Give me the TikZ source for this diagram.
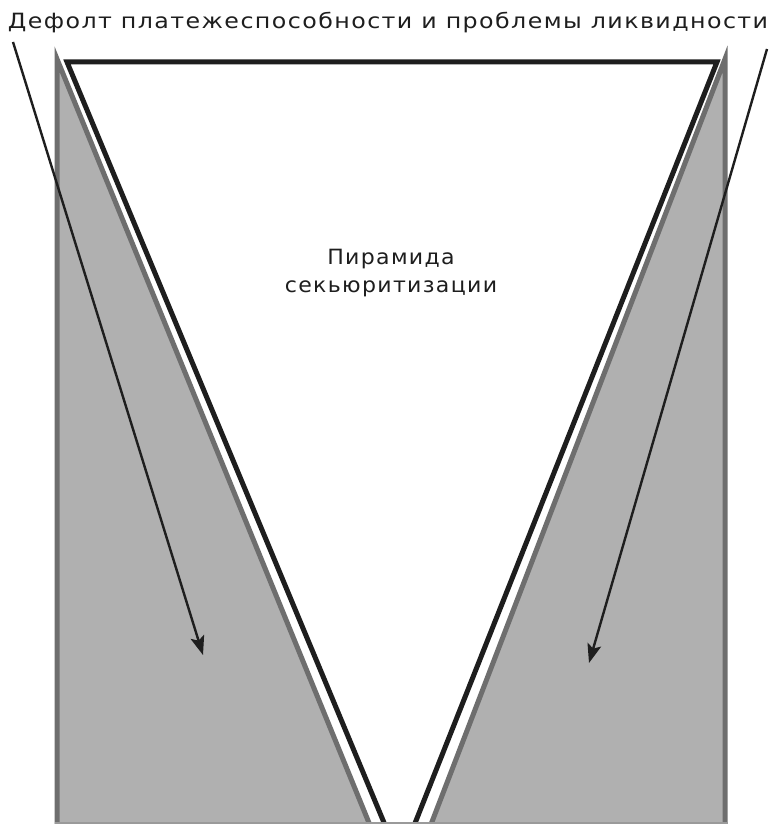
\documentclass[tikz,border=0pt]{standalone}
\usepackage{fontspec}
\setmainfont{DejaVu Sans}
\newfontfamily\wideFont[LetterSpace=6]{DejaVu Sans}
\usetikzlibrary{arrows.meta}
\definecolor{wedgeGray}{HTML}{B0B0B0}
\definecolor{edgeGray}{HTML}{6E6E6E}
\definecolor{baseGray}{HTML}{9A9A9A}
\definecolor{inkBlack}{HTML}{1E1E1E}
\tikzset{
  wedge/.style={fill=wedgeGray, draw=edgeGray, line width=5pt, line join=miter},
  pyramid/.style={fill=white, draw=inkBlack, line width=5pt, line join=miter},
  titleText/.style={text=inkBlack, font=\wideFont\fontsize{21}{28}\selectfont, align=center, inner sep=0pt, transform shape},
  arrow/.style={-{Stealth[length=19pt,width=14pt,inset=4pt]}, line width=2.4pt, draw=inkBlack}
}

\begin{document}
\begin{tikzpicture}[x=1pt, y=-1pt]
  \useasboundingbox (0,0) rectangle (777,824);
  \begin{scope}
    \clip (0,0) rectangle (777,824);
    % gray wedges on both sides
    \draw[wedge] (57,59) -- (57,840) -- (376,840) -- cycle;
    \draw[wedge] (725,59) -- (725,840) -- (425,840) -- cycle;
    % the inverted pyramid
    \draw[pyramid] (67,62) -- (717,62) -- (400,861) -- cycle;
  \end{scope}
  \draw[baseGray, line width=3pt] (55,823) -- (728,823);

  \node[titleText, anchor=base, xscale=1.13] (title) at (388,29) {Дефолт платежеспособности и проблемы ликвидности};
  \node[titleText, xscale=1.05] (pyrLabel) at (391,273) {Пирамида\\секьюритизации};

  \coordinate (leftStart) at (13,42);
  \coordinate (leftEnd) at (203,655);
  \coordinate (rightStart) at (767,49);
  \coordinate (rightEnd) at (589,663);
  \draw[arrow] (leftStart) -- (leftEnd);
  \draw[arrow] (rightStart) -- (rightEnd);
\end{tikzpicture}
\end{document}
